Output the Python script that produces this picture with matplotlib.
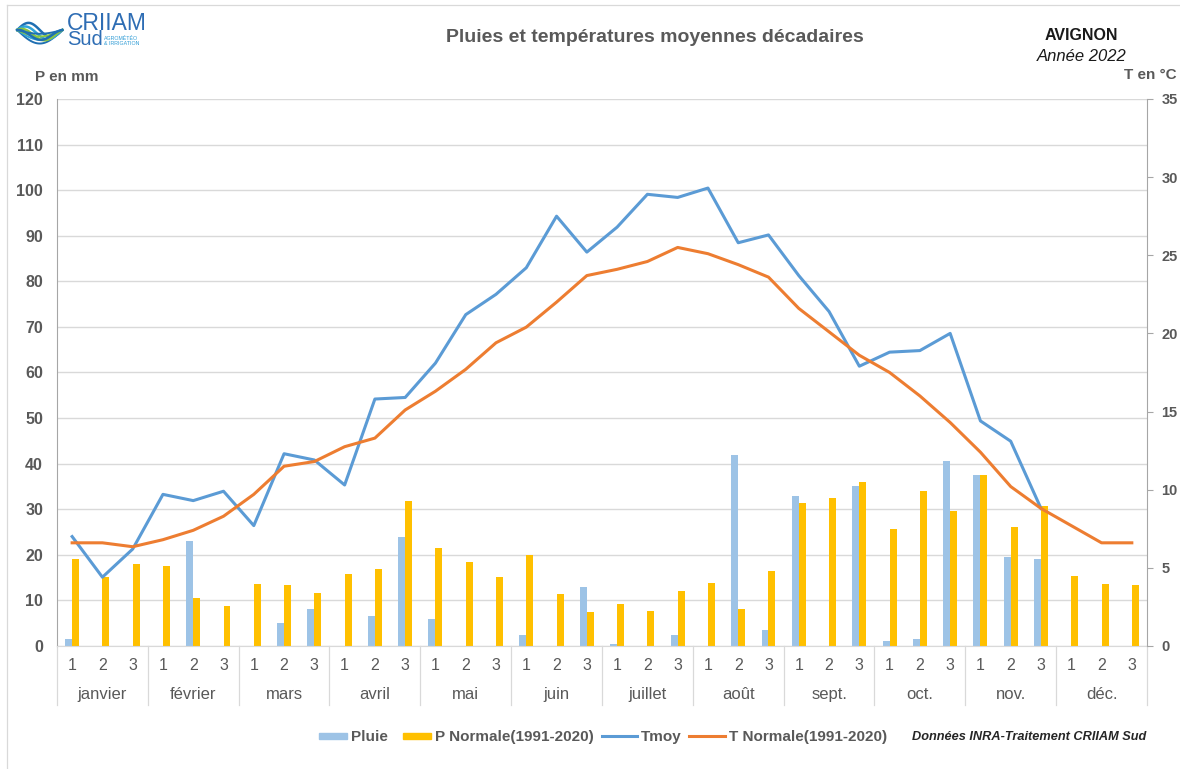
import numpy as np
import matplotlib
matplotlib.use('Agg')
import matplotlib.pyplot as plt
import matplotlib.patches as mpatches
from matplotlib.legend_handler import HandlerPatch
from matplotlib.lines import Line2D
import matplotlib.transforms as mtransforms

plt.rcParams['font.family'] = ['Liberation Sans', 'DejaVu Sans']

# --- data ---
months = ['janvier', 'février', 'mars', 'avril', 'mai', 'juin',
          'juillet', 'août', 'sept.', 'oct.', 'nov.', 'déc.']
decades = ['1', '2', '3']

pluie = [1.5, 0, 0, 0, 23, 0, 0, 5, 8, 0, 6.5, 24,
         6, 0, 0, 2.5, 0, 13, 0.5, 0, 2.5, 0, 42, 3.5,
         33, 0, 35, 1, 1.5, 40.5, 37.5, 19.5, 19, 0, 0, 0]
p_normale = [19, 15.2, 18, 17.5, 10.5, 8.7, 13.6, 13.3, 11.7, 15.8, 16.8, 31.8,
             21.5, 18.4, 15.1, 20, 11.5, 7.4, 9.2, 7.7, 12, 13.9, 8.1, 16.4,
             31.4, 32.5, 35.9, 25.7, 34.1, 29.6, 37.4, 26.2, 30.7, 15.4, 13.7, 13.4]
tmoy = [7.0, 4.4, 6.2, 9.7, 9.3, 9.9, 7.7, 12.3, 11.9, 10.3, 15.8, 15.9,
        18.1, 21.2, 22.5, 24.2, 27.5, 25.2, 26.8, 28.9, 28.7, 29.3, 25.8, 26.3,
        23.7, 21.4, 17.9, 18.8, 18.9, 20.0, 14.4, 13.1, 8.8]
t_normale = [6.6, 6.6, 6.35, 6.8, 7.4, 8.3, 9.7, 11.5, 11.8, 12.75, 13.3, 15.1,
             16.3, 17.7, 19.4, 20.4, 22.0, 23.7, 24.1, 24.6, 25.5, 25.1, 24.4, 23.6,
             21.6, 20.1, 18.6, 17.5, 16.0, 14.3, 12.4, 10.2, 8.8, 7.7, 6.6, 6.6]

C_PLUIE = '#9DC3E6'
C_PNORM = '#FFC000'
C_TMOY = '#5B9BD5'
C_TNORM = '#ED7D31'
C_TEXT = '#595959'
C_GRID = '#D9D9D9'

fig = plt.figure(figsize=(11.8, 7.69), dpi=100)
# frame of the chart area (only left and top edges are visible in the reference)
fig.add_artist(Line2D([0.006, 0.006], [0.0, 0.994], transform=fig.transFigure,
                      color='#D9D9D9', lw=0.9))
fig.add_artist(Line2D([0.006, 1.0], [0.994, 0.994], transform=fig.transFigure,
                      color='#D9D9D9', lw=0.9))

ax = fig.add_axes([0.0483, 0.16, 0.9237, 0.7113])
n = len(pluie)
x = np.arange(n)
w = 0.23
ax.bar(x - w / 2, pluie, width=w, color=C_PLUIE, zorder=2)
ax.bar(x + w / 2, p_normale, width=w, color=C_PNORM, zorder=2)
ax.set_xlim(-0.5, n - 0.5)
ax.set_ylim(0, 120)
ax.set_yticks(range(0, 121, 10))
ax.yaxis.grid(True, color=C_GRID, lw=1)
ax.set_axisbelow(True)
for s in ['top', 'right']:
    ax.spines[s].set_visible(False)
ax.spines['left'].set_color('#A6A6A6')
ax.spines['bottom'].set_color(C_GRID)
ax.tick_params(axis='y', length=0, pad=10, labelsize=11.5, labelcolor=C_TEXT)
for lab in ax.get_yticklabels():
    lab.set_fontweight('bold')
ax.set_xticks(x)
ax.set_xticklabels(decades * 12)
ax.tick_params(axis='x', length=0, pad=9, labelsize=11.5, labelcolor=C_TEXT)

trans = mtransforms.blended_transform_factory(ax.transData, ax.transAxes)
for i, m in enumerate(months):
    ax.text(3 * i + 1, -0.088, m, transform=trans, ha='center', va='center',
            fontsize=12, color=C_TEXT)
for i in range(13):
    ax.plot([3 * i - 0.5, 3 * i - 0.5], [0, -0.108], transform=trans, color=C_GRID,
            lw=0.9, clip_on=False)

ax2 = ax.twinx()
ax2.plot(x[:len(tmoy)], tmoy, color=C_TMOY, lw=2.2, zorder=3)
ax2.plot(x, t_normale, color=C_TNORM, lw=2.2, zorder=3)
ax2.set_ylim(0, 35)
ax2.set_yticks(range(0, 36, 5))
for s in ['top', 'left', 'bottom']:
    ax2.spines[s].set_visible(False)
ax2.spines['right'].set_color('#A6A6A6')
ax2.tick_params(axis='y', length=4, color='#A6A6A6', pad=6.5, labelsize=10.5, labelcolor=C_TEXT)
for lab in ax2.get_yticklabels():
    lab.set_fontweight('bold')


# legend: thin wide rectangles for the bars, as in the reference
def bar_patch(legend, orig_handle, xdescent, ydescent, width, height, fontsize):
    pw, ph = width * 0.8, height * 0.55
    return mpatches.Rectangle((-xdescent + width - pw, -ydescent + (height - ph) / 2), pw, ph)


handles = [mpatches.Patch(color=C_PLUIE), mpatches.Patch(color=C_PNORM),
           Line2D([], [], color=C_TMOY, lw=2.2), Line2D([], [], color=C_TNORM, lw=2.2)]
labels = ['Pluie', 'P Normale(1991-2020)', 'Tmoy', 'T Normale(1991-2020)']
leg = fig.legend(handles, labels, loc='center', bbox_to_anchor=(0.508, 0.0416), ncol=4,
                 frameon=False, handlelength=2.3, handletextpad=0.28,
                 columnspacing=0.5, prop={'size': 11, 'weight': 'bold'},
                 handler_map={mpatches.Patch: HandlerPatch(patch_func=bar_patch)})
for t in leg.get_texts():
    t.set_color(C_TEXT)

fig.text(0.872, 0.0416, 'Données INRA-Traitement CRIIAM Sud', ha='center', va='center',
         fontsize=9.2, fontweight='bold', fontstyle='italic', color='#262626')

# titles and axis captions
fig.text(0.555, 0.951, 'Pluies et températures moyennes décadaires', ha='center',
         va='center', fontsize=14, fontweight='bold', color=C_TEXT)
fig.text(0.916, 0.954, 'AVIGNON', ha='center', va='center', fontsize=11.5,
         fontweight='bold', color='#1a1a1a')
fig.text(0.917, 0.926, 'Année 2022', ha='center', va='center', fontsize=12,
         fontstyle='italic', color='#1a1a1a')
fig.text(0.03, 0.900, 'P en mm', ha='left', va='center', fontsize=11,
         fontweight='bold', color=C_TEXT)
fig.text(0.997, 0.902, 'T en °C', ha='right', va='center', fontsize=11,
         fontweight='bold', color=C_TEXT)

# logo
lax = fig.add_axes([0.0127, 0.939, 0.042, 0.044])
lax.axis('off')
t = np.linspace(0, 1, 60)
for k, (c, a) in enumerate([('#1F6FB2', 1.0), ('#2FA4D9', 0.9), ('#8CC63F', 0.8), ('#1F6FB2', 0.7)]):
    lax.plot(t, 0.5 + 0.42 * a * np.sin(np.pi * t) * np.cos(np.pi * (t + 0.15 * k)),
             color=c, lw=1.8)
    lax.plot(t, 0.5 - 0.4 * a * np.sin(np.pi * t) * (1 - 0.2 * k), color=c, lw=1.4)
lax.set_xlim(-0.05, 1.05)
lax.set_ylim(0, 1)
fig.text(0.057, 0.961, 'CRIIAM', ha='left', va='baseline', fontsize=16.5, color='#2E6DB4')
fig.text(0.057, 0.9415, 'Sud', ha='left', va='baseline', fontsize=14.5, color='#2E6DB4')
fig.text(0.088, 0.947, 'AGROMÉTÉO\n& IRRIGATION', ha='left', va='center', fontsize=3.8,
         color='#2E9BD5', linespacing=1.1)

fig.savefig('out.png', dpi=100)
